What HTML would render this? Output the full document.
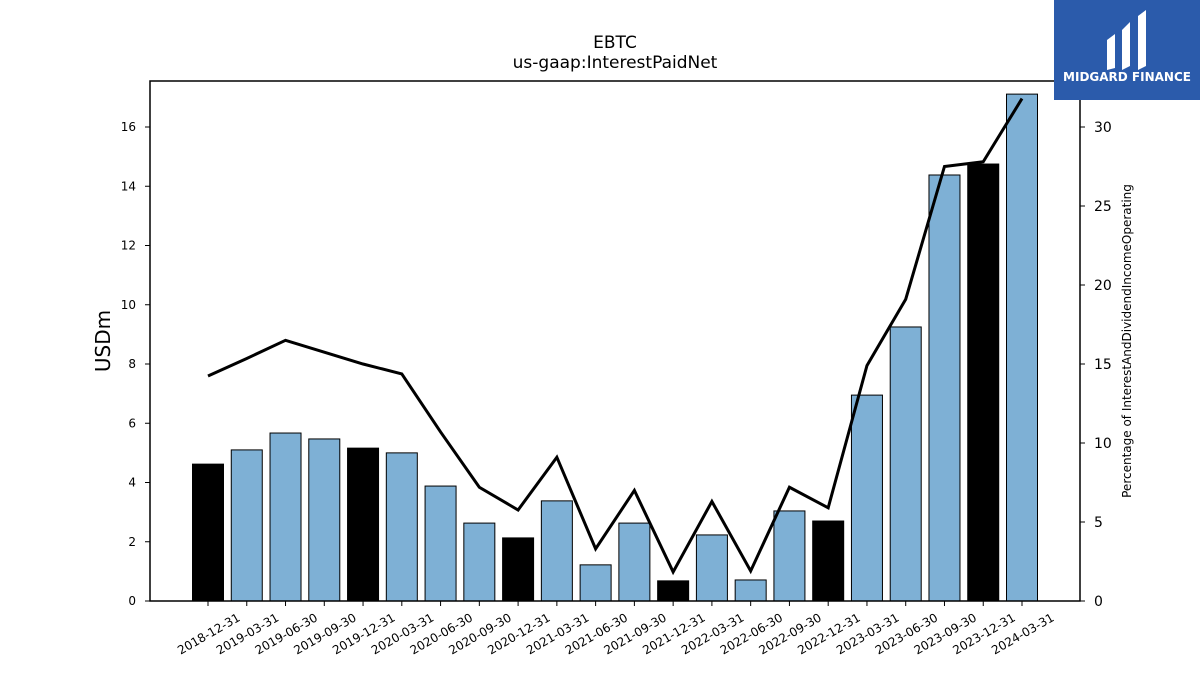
<!DOCTYPE html>
<html><head><meta charset="utf-8"><style>
body{margin:0;background:#fff;font-family:"DejaVu Sans","Liberation Sans",sans-serif}
svg{display:block}
</style></head><body>
<svg id="chart" width="1200" height="675" xmlns="http://www.w3.org/2000/svg" font-family="DejaVu Sans, Liberation Sans, sans-serif">
<text x="615" y="48" text-anchor="middle" font-size="17">EBTC</text>
<text x="615" y="68" text-anchor="middle" font-size="17">us-gaap:InterestPaidNet</text>
<text transform="translate(110,341) rotate(-90)" text-anchor="middle" font-size="20">USDm</text>
<text transform="translate(1131,341) rotate(-90)" text-anchor="middle" font-size="12">Percentage of InterestAndDividendIncomeOperating</text>
<g id="bars"></g><g id="line"></g><g id="axes"></g>
<rect x="150" y="81" width="930" height="520" fill="none" stroke="#000" stroke-width="1.5"/>
<g>
<rect x="1054" y="0" width="146" height="100" fill="#2b5bab"/>
<path d="M1107 40 l8 -6 v34 l-8 2z M1122 30 l8 -8 v44 l-8 4z M1138 16 l8 -6 v56 l-8 4z" fill="#fff"/>
<text x="1127" y="81" text-anchor="middle" font-size="12" font-weight="bold" fill="#fff">MIDGARD FINANCE</text>
</g>
</svg>
<script>
const categories=["2018-12-31","2019-03-31","2019-06-30","2019-09-30","2019-12-31","2020-03-31","2020-06-30","2020-09-30","2020-12-31","2021-03-31","2021-06-30","2021-09-30","2021-12-31","2022-03-31","2022-06-30","2022-09-30","2022-12-31","2023-03-31","2023-06-30","2023-09-30","2023-12-31","2024-03-31"];
const barValues=[4.62,5.1,5.67,5.47,5.16,5.0,3.88,2.63,2.13,3.38,1.22,2.63,0.68,2.23,0.71,3.04,2.7,6.95,9.25,14.38,14.75,17.11];
const pctValues=[14.24,15.35,16.5,15.75,15.0,14.37,10.7,7.2,5.76,9.1,3.3,7.0,1.84,6.3,1.9,7.2,5.9,14.9,19.1,27.5,27.8,31.8];
const leftTicks=[0,2,4,6,8,10,12,14,16];
const rightTicks=[0,5,10,15,20,25,30];
</script>
<script>
const NS="http://www.w3.org/2000/svg";
const x=i=>208+i*(1022-208)/(categories.length-1);
const yL=v=>601-v*29.625;
const yR=v=>601-v*15.8;
function mk(t,a,p){const e=document.createElementNS(NS,t);for(const k in a)e.setAttribute(k,a[k]);p.appendChild(e);return e;}
const bars=document.getElementById('bars'),line=document.getElementById('line'),axes=document.getElementById('axes');
barValues.forEach((v,i)=>{
 const dec=categories[i].endsWith('12-31');
 const r=mk('rect',{x:x(i)-15.5,y:yL(v),width:31,height:601-yL(v),fill:dec?'#000':'#7eb0d5',stroke:'#000','stroke-width':1},bars);
 
 
 mk('line',{x1:x(i),x2:x(i),y1:601,y2:606,stroke:'#000'},axes);
 const l=mk('text',{transform:`translate(${x(i)+33},${620}) rotate(-30)`,'text-anchor':'end','font-size':12},axes);
 l.textContent=categories[i];
 
 
});
const pts=pctValues.map((v,i)=>x(i)+','+yR(v)).join(' ');
const pl=mk('polyline',{points:pts,fill:'none',stroke:'#000','stroke-width':3},line);


leftTicks.forEach(v=>{
 mk('line',{x1:145,x2:150,y1:yL(v),y2:yL(v),stroke:'#000'},axes);
 const t=mk('text',{x:136,y:yL(v)+4,'text-anchor':'end','font-size':12},axes);t.textContent=v;
 
 
});
rightTicks.forEach(v=>{
 mk('line',{x1:1080,x2:1085,y1:yR(v),y2:yR(v),stroke:'#000'},axes);
 const t=mk('text',{x:1094,y:yR(v)+5,'font-size':14},axes);t.textContent=v;
 
 
});
</script>
</body></html>
